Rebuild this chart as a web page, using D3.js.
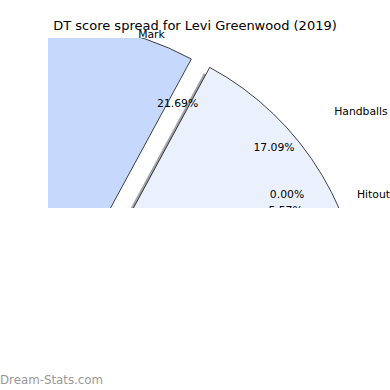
<!DOCTYPE html>
<html>
<head>
<meta charset="utf-8">
<script src="https://cdn.jsdelivr.net/npm/d3@7"></script>
<style>
  body { margin: 0; background: #fff; }
  text { font-family: "DejaVu Sans", sans-serif; }
</style>
</head>
<body>
<div id="chart"></div>
<script>
// data
const categories = ["Hitout", "Handballs", "Mark", "Kicks", "Tackles", "Free For"];
const shares = [0.00, 17.09, 21.69, 31.20, 24.45, 5.57];
const sliceColors = ["#dbe7fd", "#eaf1fd", "#c6d9fd", "#9dbcf5", "#7aa3ee", "#b3cbf9"];
const chartTitle = "DT score spread for Levi Greenwood (2019)";
const watermark = "Dream-Stats.com";

const width = 390;
const height = 390;
const explode = 0.06;

const svg = d3.select("#chart")
    .append("svg")
    .attr("width", width)
    .attr("height", height);

const defs = svg.append("defs");
defs.append("clipPath").attr("id", "wedge-clip")
    .append("rect").attr("x", 48).attr("y", 38).attr("width", 342).attr("height", 170);
defs.append("clipPath").attr("id", "text-clip")
    .append("rect").attr("x", 48).attr("y", 0).attr("width", 342).attr("height", 208);

// counter-clockwise from 3 o'clock, like matplotlib
const pie = d3.pie()
    .sort(null)
    .value(i => shares[i])
    .startAngle(Math.PI / 2)
    .endAngle(Math.PI / 2 - 2 * Math.PI);

const slices = pie(d3.range(categories.length));
const mid = d => (d.startAngle + d.endAngle) / 2;

// Wedges (drawn big, mostly clipped)
const wc = { x: 54.4, y: 334.8, r: 294 };
const wedgeArc = d3.arc().innerRadius(0).outerRadius(wc.r);
const shift = (d, extra) => {
    const m = mid(d);
    const dx = wc.x + explode * wc.r * Math.sin(m) + extra[0];
    const dy = wc.y - explode * wc.r * Math.cos(m) + extra[1];
    return `translate(${dx},${dy})`;
};

const wedges = svg.append("g").attr("clip-path", "url(#wedge-clip)");

// shadows
wedges.selectAll(".shadow")
    .data(slices.filter(d => d.value > 0))
    .enter()
    .append("path")
    .attr("class", "shadow")
    .attr("transform", d => shift(d, [-0.02 * wc.r, 0.02 * wc.r]))
    .attr("d", wedgeArc)
    .attr("fill", d => {
        const c = d3.rgb(sliceColors[d.index]);
        return d3.rgb(c.r * 0.3, c.g * 0.3, c.b * 0.3);
    })
    .attr("fill-opacity", 0.5);

wedges.selectAll(".wedge")
    .data(slices.filter(d => d.value > 0))
    .enter()
    .append("path")
    .attr("class", "wedge")
    .attr("transform", d => shift(d, [0, 0]))
    .attr("d", wedgeArc)
    .attr("fill", d => sliceColors[d.index])
    .attr("stroke", "#111")
    .attr("stroke-width", 0.8);

// Labels
const tc = { x: 194.6, y: 194, r: 140 };
const pos = (d, dist) => {
    const m = mid(d);
    const k = (dist + explode) * tc.r;
    return [tc.x + k * Math.sin(m), tc.y - k * Math.cos(m)];
};

const labels = svg.append("g").attr("clip-path", "url(#text-clip)");

labels.selectAll(".name")
    .data(slices)
    .enter()
    .append("text")
    .attr("class", "name")
    .attr("x", d => pos(d, 1.1)[0])
    .attr("y", d => pos(d, 1.1)[1])
    .attr("dy", "0.35em")
    .attr("text-anchor", d => Math.sin(mid(d)) >= 0 ? "start" : "end")
    .attr("font-size", 10.8)
    .attr("fill", "#000")
    .text(d => categories[d.index]);

labels.selectAll(".pct")
    .data(slices)
    .enter()
    .append("text")
    .attr("class", "pct")
    .attr("x", d => pos(d, 0.6)[0])
    .attr("y", d => pos(d, 0.6)[1])
    .attr("dy", "0.35em")
    .attr("text-anchor", "middle")
    .attr("font-size", 10.8)
    .attr("fill", "#000")
    .text(d => d3.format(".2f")(d.value) + "%");

// Title
svg.append("text")
    .attr("x", 195)
    .attr("y", 30)
    .attr("text-anchor", "middle")
    .attr("font-size", 13)
    .attr("fill", "#000")
    .text(chartTitle);

// Watermark
svg.append("text")
    .attr("x", 0)
    .attr("y", 384)
    .attr("font-size", 11.8)
    .attr("fill", "#999")
    .text(watermark);
</script>
</body>
</html>
